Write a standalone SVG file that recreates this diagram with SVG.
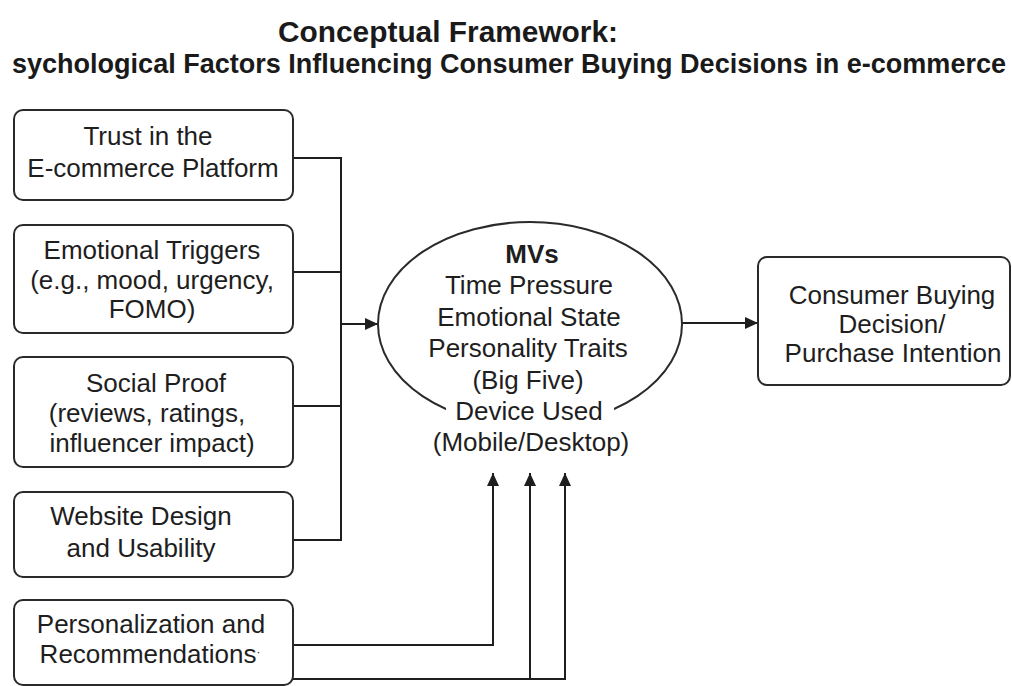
<svg xmlns="http://www.w3.org/2000/svg" width="1012" height="686" viewBox="0 0 1012 686">
  <defs>
    <marker id="arrow" markerUnits="userSpaceOnUse" markerWidth="14" markerHeight="12" refX="13" refY="6" orient="auto">
      <path d="M0,0 L13,6 L0,12 Z" fill="#1e1e1e"/>
    </marker>
    <style>
      .box { fill: #ffffff; stroke: #2a2a2a; stroke-width: 2; }
      .lbl { font-family: "Liberation Sans", Arial, sans-serif; font-size: 26px; fill: #1e1e1e; text-anchor: middle; }
      .title { font-family: "Liberation Sans", Arial, sans-serif; font-weight: bold; fill: #1a1a1a; text-anchor: middle; }
      .wire { fill: none; stroke: #1e1e1e; stroke-width: 2; }
    </style>
  </defs>

  <rect width="1012" height="686" fill="#ffffff"/>

  <!-- heading -->
  <g id="heading">
    <text class="title" x="448" y="42" font-size="29" textLength="340" lengthAdjust="spacingAndGlyphs">Conceptual Framework:</text>
    <text class="title" x="509" y="73" font-size="27" textLength="994" lengthAdjust="spacingAndGlyphs">sychological Factors Influencing Consumer  Buying Decisions in e-commerce</text>
  </g>

  <!-- connectors -->
  <g id="connectors">
    <path class="wire" d="M293 158 H341 M293 272 H341 M293 406 H341 M293 540 H341 M341 157 V541"/>
    <path class="wire" d="M341 324 H378" marker-end="url(#arrow)"/>
    <path class="wire" d="M682 323 H758" marker-end="url(#arrow)"/>
    <path class="wire" d="M293 645 H493 V473" marker-end="url(#arrow)"/>
    <path class="wire" d="M293 679 H565 V473" marker-end="url(#arrow)"/>
    <path class="wire" d="M530 679 V473" marker-end="url(#arrow)"/>
  </g>

  <!-- independent factors -->
  <g id="trust">
    <rect class="box" x="14" y="110" width="279" height="90" rx="9"/>
    <text class="lbl" x="148" y="145">Trust in the</text>
    <text class="lbl" x="153" y="177">E-commerce Platform</text>
  </g>
  <g id="emotional-triggers">
    <rect class="box" x="14" y="225" width="279" height="108" rx="9"/>
    <text class="lbl" x="152" y="259">Emotional Triggers</text>
    <text class="lbl" x="152" y="289">(e.g., mood, urgency,</text>
    <text class="lbl" x="152" y="318">FOMO)</text>
  </g>
  <g id="social-proof">
    <rect class="box" x="14" y="357" width="279" height="110" rx="9"/>
    <text class="lbl" x="156" y="392">Social Proof</text>
    <text class="lbl" x="147" y="422">(reviews, ratings,</text>
    <text class="lbl" x="152" y="452">influencer impact)</text>
  </g>
  <g id="website-design">
    <rect class="box" x="14" y="492" width="279" height="85" rx="9"/>
    <text class="lbl" x="141" y="525">Website Design</text>
    <text class="lbl" x="141" y="557">and Usability</text>
  </g>
  <g id="personalization">
    <rect class="box" x="14" y="600" width="279" height="85" rx="9"/>
    <text class="lbl" x="151" y="633">Personalization and</text>
    <text class="lbl" x="150" y="663">Recommendations<tspan font-size="12" dy="-7">·</tspan></text>
  </g>

  <!-- moderating variables -->
  <g id="moderators">
    <ellipse cx="530" cy="324" rx="152" ry="102" fill="#ffffff" stroke="#2a2a2a" stroke-width="2"/>
    <rect x="446" y="399" width="168" height="31" fill="#ffffff"/>
    <text class="lbl" x="532" y="263" font-weight="bold">MVs</text>
    <text class="lbl" x="529" y="294">Time Pressure</text>
    <text class="lbl" x="529" y="326">Emotional State</text>
    <text class="lbl" x="528" y="357">Personality Traits</text>
    <text class="lbl" x="528" y="389">(Big Five)</text>
    <text class="lbl" x="529" y="420">Device Used</text>
    <text class="lbl" x="531" y="451">(Mobile/Desktop)</text>
  </g>

  <!-- outcome -->
  <g id="outcome">
    <rect class="box" x="758" y="257" width="252" height="128" rx="9"/>
    <text class="lbl" x="892" y="304">Consumer Buying</text>
    <text class="lbl" x="892" y="333">Decision/</text>
    <text class="lbl" x="893" y="362">Purchase Intention</text>
  </g>
</svg>
